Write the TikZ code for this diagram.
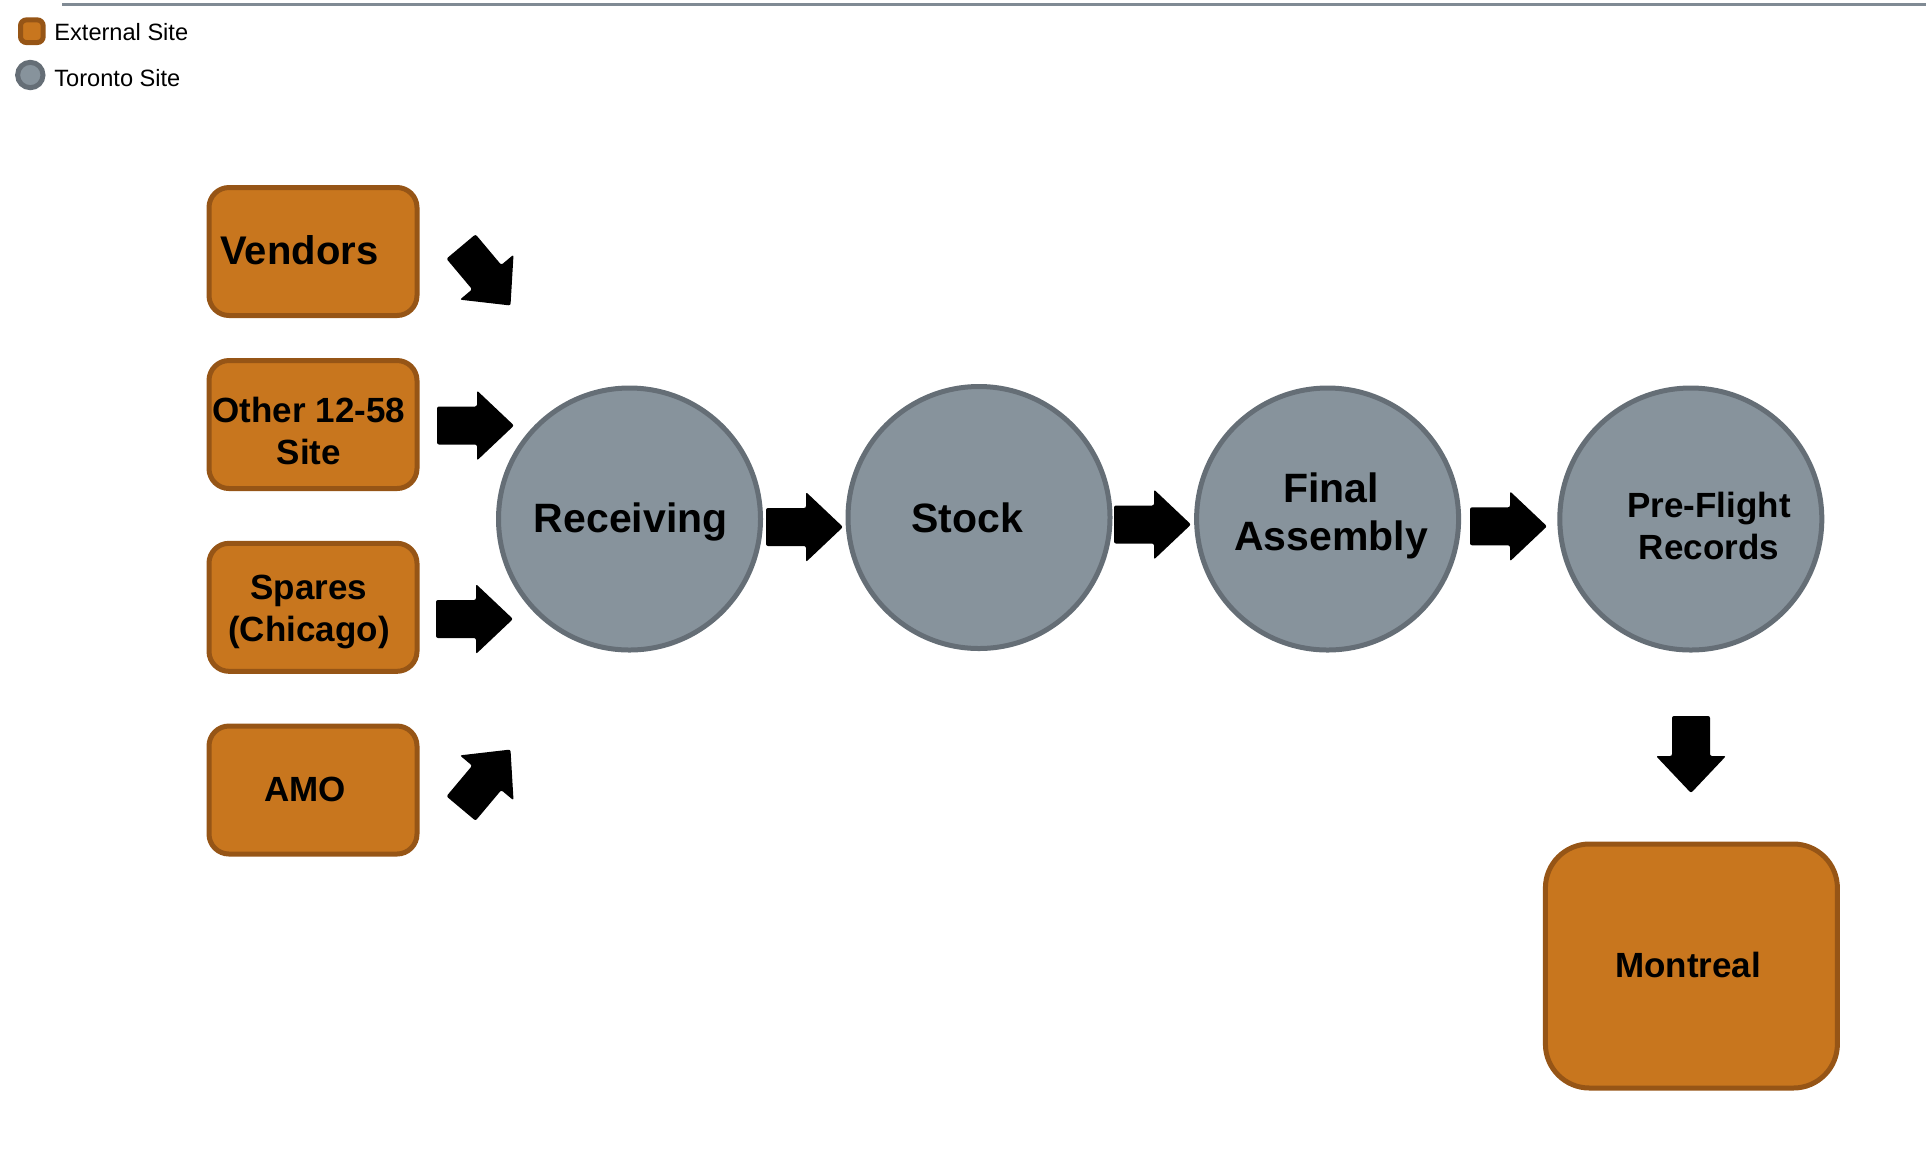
\documentclass[tikz,border=0pt]{standalone}
\usepackage{fontspec}
\setmainfont{Liberation Sans}
\definecolor{extfill}{RGB}{200,118,30}
\definecolor{extdraw}{RGB}{150,85,22}
\definecolor{torfill}{RGB}{135,147,156}
\definecolor{tordraw}{RGB}{101,110,118}
\definecolor{rulegray}{RGB}{128,138,148}
\begin{document}
\begin{tikzpicture}[x=0.5pt,y=-0.5pt,
  extbox/.style={draw=extdraw,fill=extfill,line width=2.5pt,rounded corners=10pt,minimum width=104pt,minimum height=64pt,inner sep=0pt},
  torsite/.style={circle,draw=tordraw,fill=torfill,line width=2.5pt,minimum size=131pt,inner sep=0pt},
  boxtext/.style={font=\fontsize{17.5}{21}\selectfont\bfseries,align=center,inner sep=0pt},
  bigtext/.style={font=\fontsize{20.5}{24}\selectfont\bfseries,align=center,inner sep=0pt},
  legtext/.style={font=\fontsize{11.8}{14}\selectfont,anchor=west,inner sep=0pt},
  blockarrow/.pic={\fill[black,rounded corners=1pt] (0,-19) -- (40,-19) -- (40,-35) -- (77,0) -- (40,35) -- (40,19) -- (0,19) -- cycle;}
]
\useasboundingbox (0,0) rectangle (1926,1148);

% top rule
\coordinate (rulestart) at (62,4.5);
\coordinate (ruleend) at (1926,4.5);
\draw[rulegray,line width=1.25pt] (rulestart) -- (ruleend);

% legend
\node[draw=extdraw,fill=extfill,line width=2.5pt,rounded corners=3pt,minimum size=11.35pt,inner sep=0pt] (legext) at (31.85,31.2) {};
\node[legtext] (legexttext) at (54,32.5) {External Site};
\node[circle,draw=tordraw,fill=torfill,line width=2.5pt,minimum size=12.7pt,inner sep=0pt] (legtor) at (30.3,75) {};
\node[legtext] (legtortext) at (54,78) {Toronto Site};

% external sites
\node[extbox] (vendors) at (313,251.5) {};
\node[extbox] (other) at (313,424.5) {};
\node[extbox] (spares) at (313,607.3) {};
\node[extbox] (amo) at (313,790) {};
\node[extbox,minimum width=146pt,minimum height=122pt,rounded corners=22pt] (montreal) at (1691.4,966) {};

\node[font=\fontsize{20}{24}\selectfont\bfseries,anchor=west,inner sep=0pt] (vendorstext) at (220,250) {Vendors};
\node[boxtext] (othertext) at (309,431) {Other 12-58\\Site};
\node[boxtext] (sparestext) at (309,611.5) {Spares\\(Chicago)};
\node[boxtext] (amotext) at (305,789) {AMO};
\node[boxtext] (montrealtext) at (1688,965) {Montreal};

% Toronto sites
\node[torsite] (receiving) at (629.5,519) {};
\node[torsite] (stock) at (979,517.5) {};
\node[torsite] (final) at (1327.6,519) {};
\node[torsite] (preflight) at (1690.8,519) {};

\node[bigtext] (receivingtext) at (630.7,521.5) {Receiving};
\node[bigtext] (stocktext) at (967,517.5) {Stock};
\node[bigtext] (finaltext) at (1331,515.5) {Final\\Assembly};
\node[boxtext] (preflighttext) at (1709,526) {Pre-Flight\\Records};

% block arrows
\pic[rotate=-50] (avendors) at (461,246.5) {blockarrow};
\pic (aother) at (437,425.5) {blockarrow};
\pic (aspares) at (436,619) {blockarrow};
\pic[rotate=50] (aamo) at (461,808.5) {blockarrow};
\pic (arecstock) at (766,527) {blockarrow};
\pic (astockfinal) at (1114,524.5) {blockarrow};
\pic (afinalpre) at (1470,526.3) {blockarrow};
\pic[rotate=-90] (apremont) at (1691,716) {blockarrow};
\end{tikzpicture}
\end{document}
